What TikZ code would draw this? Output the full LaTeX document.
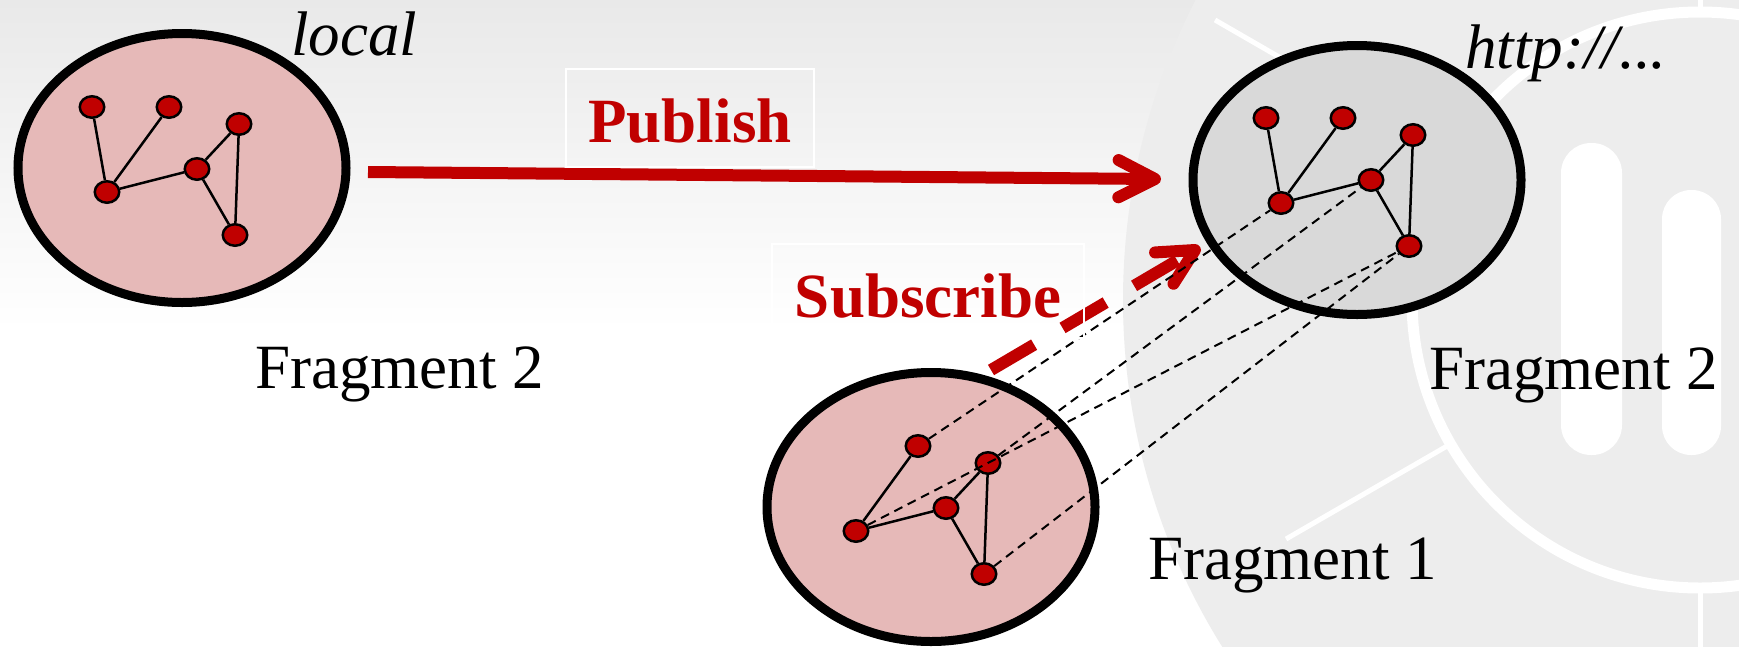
\documentclass[tikz,border=0pt]{standalone}
\usepackage{fontspec}
\setmainfont{Liberation Serif}
\usetikzlibrary{shapes.geometric}
\definecolor{dred}{RGB}{192,0,0}
\definecolor{pinkfill}{RGB}{230,185,184}
\definecolor{grayfill}{RGB}{217,217,217}
\definecolor{bgtop}{RGB}{233,233,233}
\definecolor{diskc}{RGB}{237,237,237}
\begin{document}
\begin{tikzpicture}[x=1pt,y=1pt,
  fragbox/.style={ellipse, draw=black, line width=9pt, minimum width=328pt, minimum height=269pt, inner sep=0pt},
  gnode/.style={ellipse, draw=black, line width=2.5pt, fill=dred, minimum width=24.5pt, minimum height=21.5pt, inner sep=0pt},
  gedge/.style={line width=2.5pt, black},
  link/.style={line width=2pt, dash pattern=on 9pt off 6pt, black},
  lbl/.style={inner sep=0pt, anchor=base west, font=\fontsize{63}{70}\selectfont},
  redline/.style={line width=12pt, draw=dred},
  redhead/.style={line width=12pt, draw=dred, line cap=round, line join=round},
  actbox/.style={draw=white, line width=1.5pt, inner sep=0pt, text depth=0pt, text=dred, font=\fontsize{63}{70}\selectfont\bfseries}
]
\useasboundingbox (0,0) rectangle (1739,-646);
% background
\begin{scope}
\clip (0,0) rectangle (1739,-646);
\fill[white] (0,0) rectangle (1739,-646);
\shade[top color=bgtop, bottom color=white] (0,0) rectangle (1739,-330);
\fill[diskc] (1778,-300) circle (655);
\draw[white, line width=11pt] (1700,-300) circle (288);
\draw[white, line width=5pt] (1700,-300) ++(150:288) -- ++(150:272);
\draw[white, line width=5pt] (1700,-300) ++(210:288) -- ++(210:190);
\draw[white, line width=5pt] (1700,-300) ++(270:288) -- ++(270:200);
\draw[white, line width=5pt] (1700,-300) ++(90:288) -- ++(90:100);
\fill[white, rounded corners=30pt] (1561,-143) rectangle (1622,-455);
\fill[white, rounded corners=29pt] (1662,-190) rectangle (1721,-455);
\end{scope}

% fragments
\node[fragbox, fill=pinkfill] (FL) at (182,-168) {};
\node[fragbox, fill=grayfill] (FR) at (1357,-180) {};
\node[fragbox, fill=pinkfill] (FB) at (931,-507) {};

% left graph
\node[gnode] (L1) at (92,-107) {};
\node[gnode] (L2) at (169,-107) {};
\node[gnode] (L3) at (239,-124) {};
\node[gnode] (L4) at (197,-169) {};
\node[gnode] (L5) at (107,-192) {};
\node[gnode] (L6) at (235,-235) {};
% right graph
\node[gnode] (R1) at (1266,-118) {};
\node[gnode] (R2) at (1343,-118) {};
\node[gnode] (R3) at (1413,-135) {};
\node[gnode] (R4) at (1371,-180) {};
\node[gnode] (R5) at (1281,-203) {};
\node[gnode] (R6) at (1409,-246) {};
% bottom graph
\node[gnode] (B2) at (918,-446) {};
\node[gnode] (B3) at (988,-463) {};
\node[gnode] (B4) at (946,-508) {};
\node[gnode] (B5) at (856,-531) {};
\node[gnode] (B6) at (984,-574) {};

\draw[gedge] (L1) -- (L5);
\draw[gedge] (L2) -- (L5);
\draw[gedge] (L5) -- (L4);
\draw[gedge] (L4) -- (L3);
\draw[gedge] (L3) -- (L6);
\draw[gedge] (L4) -- (L6);
\draw[gedge] (R1) -- (R5);
\draw[gedge] (R2) -- (R5);
\draw[gedge] (R5) -- (R4);
\draw[gedge] (R4) -- (R3);
\draw[gedge] (R3) -- (R6);
\draw[gedge] (R4) -- (R6);
\draw[gedge] (B2) -- (B5);
\draw[gedge] (B5) -- (B4);
\draw[gedge] (B4) -- (B3);
\draw[gedge] (B3) -- (B6);
\draw[gedge] (B4) -- (B6);

% publish arrow
\coordinate (pubA) at (368,-172);
\coordinate (pubT) at (1155,-179);
\draw[redline] (pubA) -- (pubT);
\draw[redhead] (pubT) ++(152.5:41) -- (pubT) -- ++(206.5:41);

% subscribe arrow
\coordinate (subA) at (991,-370);
\coordinate (subT) at (1195,-250);
\draw[redline, dash pattern=on 50pt off 33pt] (subA) -- (subT);
\draw[redhead] (subT) ++(183.5:40) -- (subT) -- ++(237.5:40);

% correspondence links
\draw[link] (B2) -- (R5);
\draw[link] (B3) -- (R4);
\draw[link] (B5) -- (R6);
\draw[link] (B6) -- (R6);

% labels
\node[lbl] (tFL) at (255,-388) {Fragment 2};
\node[lbl] (tFR) at (1429,-389) {Fragment 2};
\node[lbl] (tFB) at (1148,-579) {Fragment 1};
\node[lbl] (tloc) at (291,-55) {\itshape local};
\node[lbl] (thttp) at (1465,-68) {\itshape http://...};

\node[actbox, text height=48pt, minimum width=248pt, minimum height=98pt] (pub) at (690,-118) {Publish};
\node[actbox, text height=52pt, minimum width=312pt, minimum height=94pt] (sub) at (928,-291) {Subscribe};
\end{tikzpicture}
\end{document}
